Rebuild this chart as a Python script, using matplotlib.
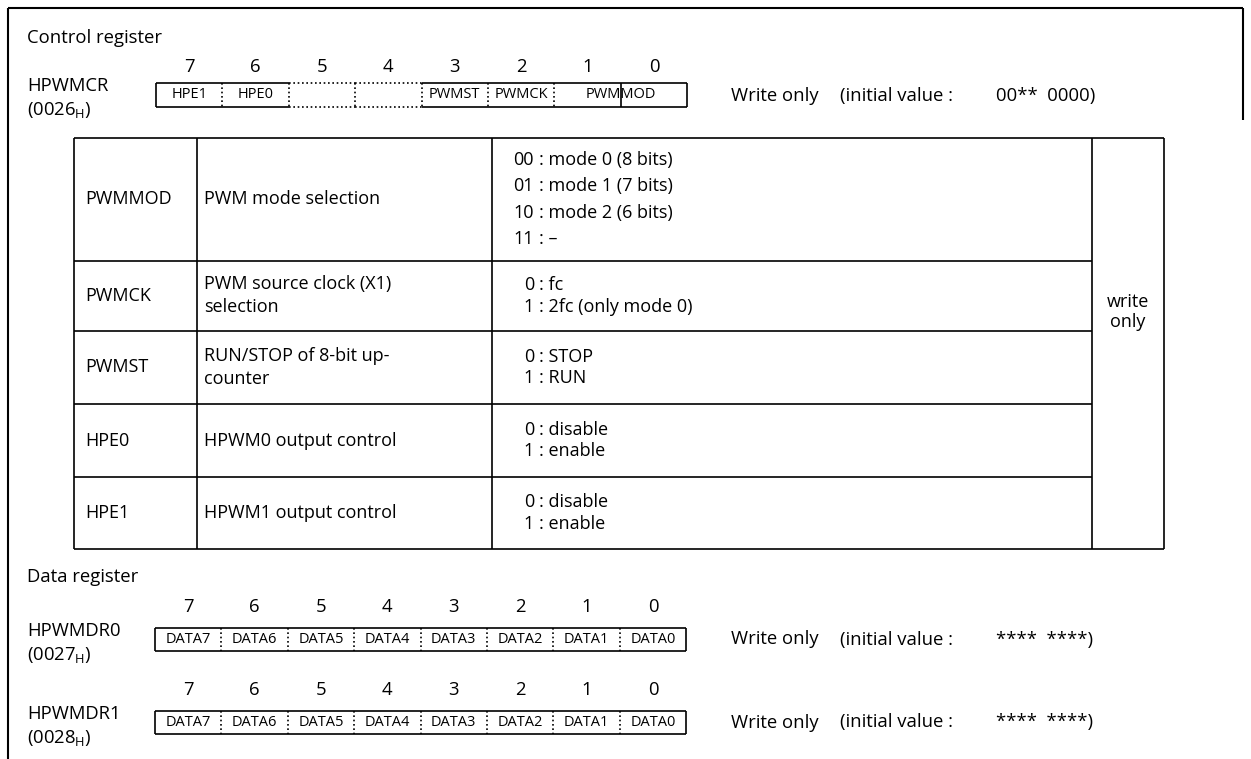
import matplotlib
matplotlib.use("Agg")
import matplotlib.pyplot as plt

plt.rcParams['font.family'] = ['Open Sans', 'DejaVu Sans']

# register bit numbers
bits = [7, 6, 5, 4, 3, 2, 1, 0]

# control register HPWMCR fields (name, number of bits)
ctrl_fields = [("HPE1", 1), ("HPE0", 1), ("", 1), ("", 1),
               ("PWMST", 1), ("PWMCK", 1), ("PWMMOD", 2)]
ctrl_unused = [5, 4]

# table rows
tbl_names = ["PWMMOD", "PWMCK", "PWMST", "HPE0", "HPE1"]
tbl_funcs = [["PWM mode selection"],
             ["PWM source clock (X1)", "selection"],
             ["RUN/STOP of 8-bit up-", "counter"],
             ["HPWM0 output control"],
             ["HPWM1 output control"]]
tbl_codes = [["00", "01", "10", "11"],
             ["0", "1"],
             ["0", "1"],
             ["0", "1"],
             ["0", "1"]]
tbl_desc = [["mode 0 (8 bits)", "mode 1 (7 bits)", "mode 2 (6 bits)", "\u2013"],
            ["fc", "2fc (only mode 0)"],
            ["STOP", "RUN"],
            ["disable", "enable"],
            ["disable", "enable"]]
tbl_access = "write\nonly"

# data registers
data_fields = ["DATA7", "DATA6", "DATA5", "DATA4", "DATA3", "DATA2", "DATA1", "DATA0"]
data_regs = [("HPWMDR0", "0027"), ("HPWMDR1", "0028")]
data_init = "****  ****)"
ctrl_init = "00**  0000)"

fig = plt.figure(figsize=(12.51, 7.59), dpi=100)
ax = fig.add_axes([0, 0, 1, 1])
ax.set_xlim(0, 1251)
ax.set_ylim(759, 0)
ax.axis('off')

LW = 1.2
DOT = (0, (1, 1.6))
FS = 13.3
FS_TBL = 13
FS_SMALL = 10.5


def line(x0, y0, x1, y1, dotted=False, lw=LW):
    ax.plot([x0, x1], [y0, y1], color='black', lw=lw,
            linestyle=DOT if dotted else '-', solid_capstyle='butt')


def addr_label(x, y, name, addr):
    ax.text(x, y, name, fontsize=FS, va='center', ha='left')
    ax.text(x, y + 24, "(" + addr + r"$_\mathregular{H}$)", fontsize=FS,
            va='center', ha='left')


def bit_header(x0, w, y):
    for i, b in enumerate(bits):
        ax.text(x0 + (i + 0.5) * w, y, str(b), fontsize=FS, ha='center', va='center')


def write_only(y, init):
    ax.text(731, y, "Write only", fontsize=FS, va='center')
    ax.text(840, y, "(initial value :", fontsize=FS, va='center')
    ax.text(996, y, init, fontsize=FS, va='center')


# outer frame
line(8, 8, 1243, 8, lw=1.5)
line(8, 8, 8, 759, lw=1.5)
line(1243, 8, 1243, 120, lw=1.5)

# ---- control register ----
x0, w = 156, 66.4
ax.text(27, 38, "Control register", fontsize=FS, va='center')
bit_header(x0, w, 67)
by0, by1 = 83, 107
addr_label(27, 86, "HPWMCR", "0026")
for i, b in enumerate(bits):
    dotted = b in ctrl_unused
    line(x0 + i * w, by0, x0 + (i + 1) * w, by0, dotted)
    line(x0 + i * w, by1, x0 + (i + 1) * w, by1, dotted)
line(x0, by0, x0, by1)
line(x0 + 8 * w, by0, x0 + 8 * w, by1)
pos = 0
for name, n in ctrl_fields:
    if pos > 0:
        line(x0 + pos * w, by0, x0 + pos * w, by1, dotted=True)
    if n > 1:
        for k in range(1, n):
            line(x0 + (pos + k) * w, by0, x0 + (pos + k) * w, by1)
    if name:
        ax.text(x0 + (pos + n / 2) * w, (by0 + by1) / 2, name, fontsize=FS_SMALL,
                ha='center', va='center')
    pos += n
write_only(96, ctrl_init)

# ---- table ----
cx = [74, 197, 492, 1092, 1164]
ry = [138, 261, 331, 404, 477, 549]
line(cx[0], ry[0], cx[-1], ry[0])
line(cx[0], ry[-1], cx[-1], ry[-1])
for x in cx:
    line(x, ry[0], x, ry[-1])
for y in ry[1:-1]:
    line(cx[0], y, cx[3], y)
for r in range(len(tbl_names)):
    yc = (ry[r] + ry[r + 1]) / 2
    ax.text(85, yc, tbl_names[r], fontsize=FS_TBL, va='center')
    f = tbl_funcs[r]
    for k, s in enumerate(f):
        ax.text(204, yc + (k - (len(f) - 1) / 2) * 23, s, fontsize=FS_TBL, va='center')
    c = tbl_codes[r]
    for k in range(len(c)):
        yy = yc + (k - (len(c) - 1) / 2) * (26.5 if len(c) > 2 else 21.5)
        ax.text(534, yy, c[k], fontsize=FS_TBL, va='center', ha='right')
        ax.text(539, yy, ": " + tbl_desc[r][k], fontsize=FS_TBL, va='center', ha='left')
ax.text((cx[3] + cx[4]) / 2, 312, tbl_access, fontsize=FS_TBL, ha='center',
        va='center', linespacing=1.2)

# ---- data registers ----
ax.text(27, 577, "Data register", fontsize=FS, va='center')
x0, w = 155, 66.4
for j, (name, addr) in enumerate(data_regs):
    yb = 607 + j * 83
    bit_header(x0, w, yb)
    by0, by1 = yb + 21, yb + 44
    addr_label(27, yb + 24, name, addr)
    line(x0, by0, x0 + 8 * w, by0)
    line(x0, by1, x0 + 8 * w, by1)
    line(x0, by0, x0, by1)
    line(x0 + 8 * w, by0, x0 + 8 * w, by1)
    for i in range(1, 8):
        line(x0 + i * w, by0, x0 + i * w, by1, dotted=True)
    for i, s in enumerate(data_fields):
        ax.text(x0 + (i + 0.5) * w, (by0 + by1) / 2, s, fontsize=FS_SMALL,
                ha='center', va='center')
    write_only((by0 + by1) / 2, data_init)

fig.savefig("out.png", dpi=100)
